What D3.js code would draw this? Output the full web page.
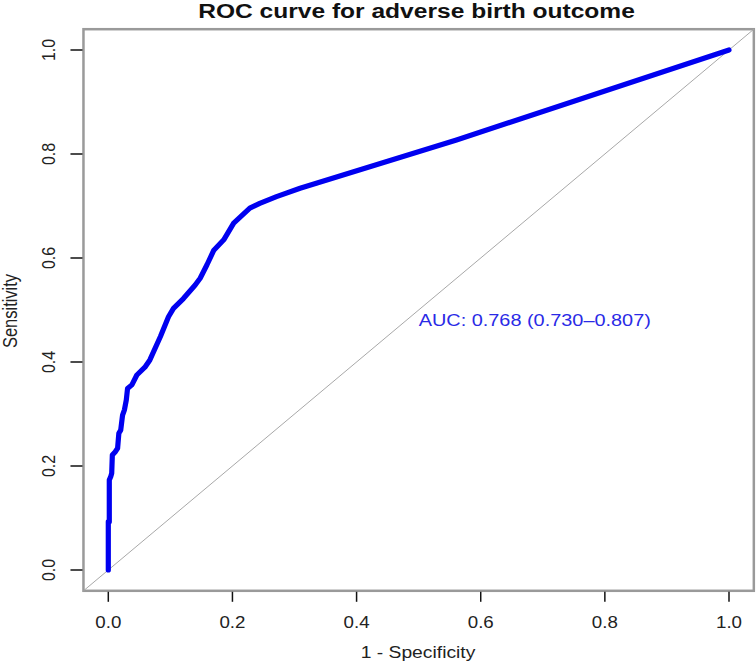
<!DOCTYPE html>
<html>
<head>
<meta charset="utf-8">
<script src="https://cdn.jsdelivr.net/npm/d3@7"></script>
<style>
    body { margin: 0; background: #fff; }
    svg { display: block; font-family: "Liberation Sans", Arial, sans-serif; }
</style>
</head>
<body>
<svg id="chart" width="756" height="664"></svg>
<script>
// ROC curve points (1 - specificity, sensitivity)
const fpr = [0, 0, 0.0016, 0.0016, 0.004, 0.0055, 0.0065, 0.011, 0.015, 0.017, 0.02, 0.023,
    0.026, 0.029, 0.031, 0.038, 0.046, 0.059, 0.067, 0.084, 0.097, 0.105, 0.121, 0.140,
    0.148, 0.159, 0.170, 0.186, 0.202, 0.228, 0.244, 0.271, 0.309, 0.561, 1];
const tpr = [0, 0.093, 0.093, 0.173, 0.18, 0.186, 0.221, 0.227, 0.234, 0.263, 0.269, 0.298,
    0.308, 0.327, 0.349, 0.356, 0.375, 0.39, 0.404, 0.449, 0.487, 0.503, 0.522, 0.548,
    0.561, 0.587, 0.615, 0.635, 0.667, 0.696, 0.705, 0.718, 0.734, 0.827, 1];
const tickValues = [0, 0.2, 0.4, 0.6, 0.8, 1.0];
const titleText = "ROC curve for adverse birth outcome";
const xLabel = "1 - Specificity";
const yLabel = "Sensitivity";
const aucLabel = "AUC: 0.768 (0.730\u20130.807)";
const aucPos = [0.5, 0.47];

const svg = d3.select("#chart");
const sx = 1.17; // the picture is a little wider than tall, stretch text the same way

const x = d3.scaleLinear().domain([0, 1]).range([108.3, 729]);
const y = d3.scaleLinear().domain([0, 1]).range([570, 50]);
const pad = 0.04; // R style 4% extension

// plot box
svg.append("rect")
    .attr("x", x(-pad)).attr("y", y(1 + pad))
    .attr("width", x(1 + pad) - x(-pad))
    .attr("height", y(-pad) - y(1 + pad))
    .attr("fill", "none").attr("stroke", "#9a9a9a").attr("stroke-width", 2.5);

// chance diagonal
svg.append("line")
    .attr("x1", x(-pad)).attr("y1", y(-pad))
    .attr("x2", x(1 + pad)).attr("y2", y(1 + pad))
    .attr("stroke", "#a8a8a8").attr("stroke-width", 1);

// x axis ticks + labels
const xg = svg.append("g").attr("transform", `translate(0,${y(-pad)})`);
xg.selectAll("line").data(tickValues).enter().append("line")
    .attr("x1", d => x(d)).attr("x2", d => x(d))
    .attr("y1", 1).attr("y2", 11)
    .attr("stroke", "#111").attr("stroke-width", 1.5);
svg.append("g").selectAll("text").data(tickValues).enter().append("text")
    .attr("transform", d => `translate(${x(d)},628) scale(${sx},1)`)
    .attr("text-anchor", "middle")
    .style("font-size", "16px").attr("fill", "#222")
    .text(d => d.toFixed(1));

// y axis ticks + labels
const yg = svg.append("g").attr("transform", `translate(${x(-pad)},0)`);
yg.selectAll("line").data(tickValues).enter().append("line")
    .attr("y1", d => y(d)).attr("y2", d => y(d))
    .attr("x1", -1).attr("x2", -13)
    .attr("stroke", "#111").attr("stroke-width", 1.5);
svg.append("g").selectAll("text").data(tickValues).enter().append("text")
    .attr("transform", d => `translate(55,${y(d)}) scale(${sx},1) rotate(-90)`)
    .attr("text-anchor", "middle")
    .style("font-size", "16px").attr("fill", "#222")
    .text(d => d.toFixed(1));

// axis titles
svg.append("text")
    .attr("transform", `translate(418,658) scale(${sx},1)`)
    .attr("text-anchor", "middle")
    .style("font-size", "16.5px").attr("fill", "#222")
    .text(xLabel);
svg.append("text")
    .attr("transform", `translate(16.5,311) scale(${sx},1) rotate(-90)`)
    .attr("text-anchor", "middle")
    .style("font-size", "16.5px").attr("fill", "#222")
    .text(yLabel);

// title
svg.append("text")
    .attr("transform", `translate(416.5,18) scale(${sx},1)`)
    .attr("text-anchor", "middle")
    .style("font-size", "21px").style("font-weight", "bold").attr("fill", "#111")
    .text(titleText);

// ROC curve
const line = d3.line().x(d => x(d[0])).y(d => y(d[1]));
svg.append("path")
    .datum(d3.zip(fpr, tpr))
    .attr("d", line)
    .attr("fill", "none")
    .attr("stroke", "#0000f0")
    .attr("stroke-width", 5.2)
    .attr("stroke-linejoin", "round")
    .attr("stroke-linecap", "round");

// AUC annotation
svg.append("text")
    .attr("transform", `translate(${x(aucPos[0])},${y(aucPos[1])}) scale(${sx},1)`)
    .style("font-size", "17px").attr("fill", "#2a2ae6")
    .text(aucLabel);
</script>
</body>
</html>
